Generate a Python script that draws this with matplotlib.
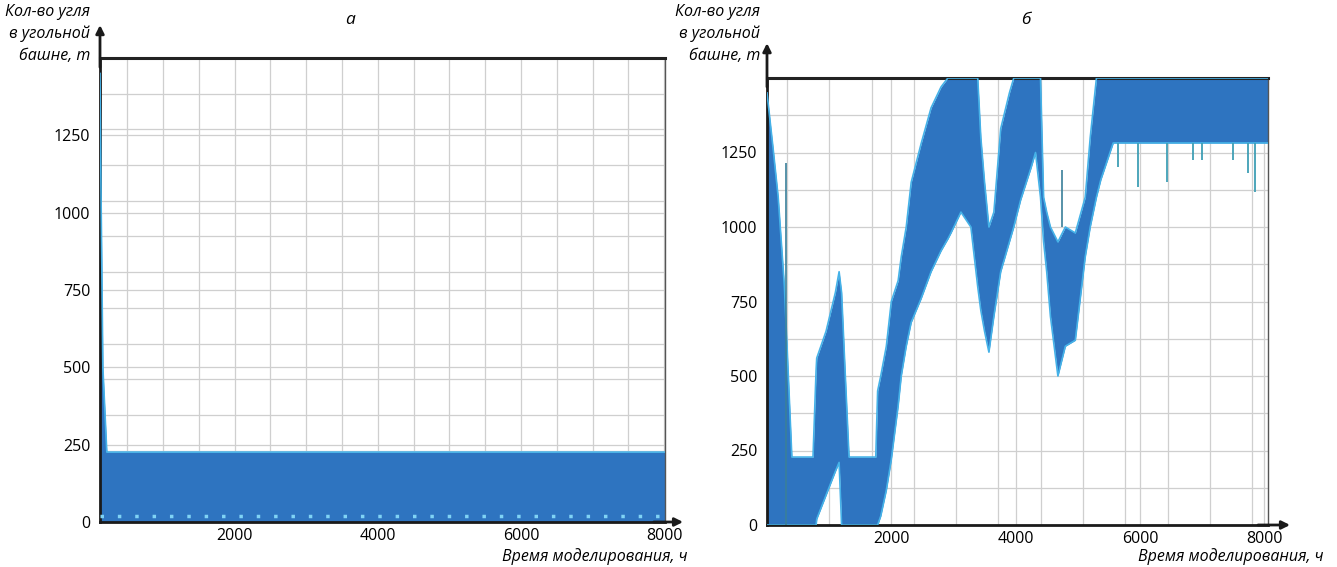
import matplotlib
matplotlib.use("Agg")
import matplotlib.pyplot as plt
import numpy as np

# ---------------- data ----------------
# panel "а": coal in the coal tower (t) vs simulation time (h)
t_a = [120, 135, 160, 215, 8010]
upper_a = [1450, 1050, 500, 226, 226]
lower_a = [0, 0, 0, 0, 0]
floor_a = [18, 18, 18, 18, 18]          # light specks at oscillation minimum

# panel "б"
t_b = [0, 100, 180, 280, 360, 400, 740, 790, 800, 950, 1100, 1160, 1200, 1260,
       1320, 1750, 1780, 1830, 1920, 2000, 2110, 2160, 2240, 2320, 2480, 2640,
       2800, 2910, 2960, 3120, 3280, 3390, 3440, 3500, 3570, 3650, 3760, 3900,
       3970, 4080, 4250, 4320, 4400, 4450, 4500, 4560, 4680, 4800, 4960, 5120,
       5200, 5300, 5370, 5570, 8060]
upper_b = [1450, 1260, 1100, 800, 420, 228, 228, 520, 560, 650, 780, 850, 780, 500,
           228, 228, 450, 500, 600, 750, 820, 900, 1000, 1150, 1280, 1400,
           1470, 1500, 1500, 1500, 1500, 1500, 1300, 1150, 1000, 1050, 1330, 1450,
           1500, 1500, 1500, 1500, 1500, 1100, 1050, 1000, 950, 1000, 980, 1100,
           1300, 1500, 1500, 1500, 1500]
lower_b = [0, 0, 0, 0, 0, 0, 0, 0, 20, 100, 180, 210, 0, 0,
           0, 0, 0, 30, 117, 220, 400, 500, 600, 680, 760, 850,
           920, 960, 980, 1050, 1000, 800, 720, 650, 580, 700, 850, 950,
           1000, 1090, 1200, 1250, 1100, 950, 850, 700, 500, 600, 620, 900,
           1000, 1100, 1158, 1282, 1282]
spike_t = [313, 4750]
spike_lo = [0, 1000]
spike_hi = [1215, 1190]
dip_t = [5650, 5974, 6440, 6857, 7000, 7498, 7739, 7851]
dip_v = [1200, 1134, 1150, 1225, 1225, 1225, 1181, 1118]

yticks = [0, 250, 500, 750, 1000, 1250]
xticks = [2000, 4000, 6000, 8000]
ylabel = "Кол-во угля\nв угольной\nбашне, т"
xlabel = "Время моделирования, ч"
titles = ["а", "б"]

# ---------------- style ----------------
FONT = "Open Sans"
plt.rcParams['font.family'] = [FONT, 'DejaVu Sans']
BLUE = "#2e74c0"
EDGE = "#45b2e8"
GRID = "#cfcfcf"

fig = plt.figure(figsize=(13.37, 5.67), dpi=100)
W, H = 1337, 567


def make_ax(x0, x1, ytop, ybot):
    return fig.add_axes([x0 / W, 1 - ybot / H, (x1 - x0) / W, (ybot - ytop) / H])


ax1 = make_ax(100, 665, 58, 522)
ax2 = make_ax(767, 1268, 78, 525)

# panel а
ax1.set_xlim(120, 8010)
ax1.set_ylim(0, 1500)
ax1.fill_between(t_a, lower_a, upper_a, color=BLUE, lw=0, zorder=2)
ax1.plot(t_a, upper_a, color=EDGE, lw=1.2, zorder=3)
ax1.plot(t_a, floor_a, color="#7fd3f5", lw=2.5, ls=(0, (1, 4)), zorder=3)
ax1.set_xticks(np.arange(500, 8001, 500), minor=True)
ax1.set_yticks(np.linspace(0, 1500, 14)[1:-1], minor=True)

# panel б
ax2.set_xlim(0, 8060)
ax2.set_ylim(0, 1500)
ax2.fill_between(t_b, lower_b, upper_b, color=BLUE, lw=0, zorder=2)
ax2.plot(t_b, upper_b, color=EDGE, lw=1.2, zorder=3)
ax2.plot(t_b, lower_b, color=EDGE, lw=1.2, zorder=3)
ax2.vlines(spike_t, spike_lo, spike_hi, color="#3a7f9a", lw=1.2, zorder=3)
dip_top = np.interp(dip_t, t_b, lower_b)
ax2.vlines(dip_t, dip_v, dip_top, color="#3f9fb5", lw=1.3, zorder=3)
ax2.set_xticks(np.arange(324, 8060, 680), minor=True)
ax2.set_yticks(np.arange(125, 1500, 125), minor=True)

for ax, title, tx, yl_x, yl_top, xl_x in [
        (ax1, titles[0], 350, 90, 4, 687),
        (ax2, titles[1], 1026, 760, 4, 1324)]:
    ax.set_xticks(xticks)
    ax.set_yticks(yticks)
    ax.grid(True, which='both', color=GRID, lw=0.9, zorder=0)
    ax.set_axisbelow(True)
    ax.tick_params(which='both', length=0, labelsize=11.5)
    ax.tick_params(axis='y', pad=7)
    ax.tick_params(axis='x', pad=4)
    ax.spines['top'].set_linewidth(2.2)
    ax.spines['top'].set_color("#222222")
    ax.spines['left'].set_linewidth(2.0)
    ax.spines['left'].set_color("#1a1a1a")
    ax.spines['bottom'].set_linewidth(2.0)
    ax.spines['bottom'].set_color("#1a1a1a")
    ax.spines['right'].set_linewidth(1.0)
    ax.spines['right'].set_color("#555555")
    for lab in ax.get_xticklabels() + ax.get_yticklabels():
        lab.set_fontfamily(FONT)
    fig.text(tx / W, 1 - 20 / H, title, ha='center', va='center',
             fontsize=12.5, style='italic', family=FONT)
    fig.text(yl_x / W, 1 - yl_top / H, ylabel, ha='right', va='top',
             fontsize=11.5, style='italic', family=FONT, linespacing=1.45)
    fig.text(xl_x / W, 1 - 557 / H, xlabel, ha='right', va='center',
             fontsize=11.5, style='italic', family=FONT)

# axis arrows
for ax, yext, xext in [(ax1, 1.071, 1.032), (ax2, 1.078, 1.044)]:
    ax.annotate("", xy=(0, yext), xytext=(0, 0.98), xycoords='axes fraction',
                arrowprops=dict(arrowstyle="-|>", color="#1a1a1a", lw=2,
                                mutation_scale=12, shrinkA=0, shrinkB=0),
                annotation_clip=False)
    ax.annotate("", xy=(xext, 0), xytext=(0.98, 0), xycoords='axes fraction',
                arrowprops=dict(arrowstyle="-|>", color="#1a1a1a", lw=2,
                                mutation_scale=12, shrinkA=0, shrinkB=0),
                annotation_clip=False)

fig.savefig("out.png", dpi=100)
